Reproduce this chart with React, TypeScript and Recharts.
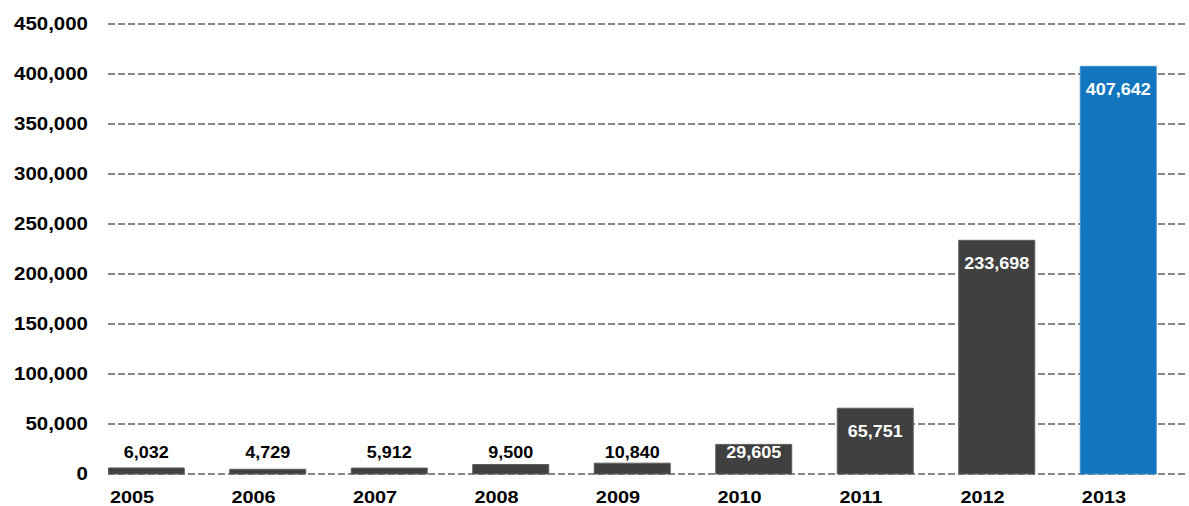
import { BarChart, Bar, XAxis, YAxis, CartesianGrid, LabelList, Cell } from "recharts"

const years = [2005, 2006, 2007, 2008, 2009, 2010, 2011, 2012, 2013]
const counts = [6032, 4729, 5912, 9500, 10840, 29605, 65751, 233698, 407642]
const yTicks = [0, 50000, 100000, 150000, 200000, 250000, 300000, 350000, 400000, 450000]

const data = years.map((year, i) => ({ year, count: counts[i] }))

const FONT = '"Liberation Sans", Arial, Helvetica, sans-serif'

function fmt(n: number) {
  return n.toLocaleString("en-US")
}

// axis text is drawn slightly wide, so stretch it around its anchor
function stretch(x: number, y: number, sx: number) {
  return `translate(${x} ${y}) scale(${sx} 1) translate(${-x} ${-y})`
}

function YTick(props: any) {
  const { x, y, payload } = props
  return (
    <text
      x={x}
      y={y}
      dy="0.355em"
      textAnchor="end"
      fontFamily={FONT}
      fontWeight="bold"
      fontSize={17.5}
      fill="#000"
      transform={stretch(x, y, 1.17)}
    >
      {fmt(Number(payload.value))}
    </text>
  )
}

function XTick(props: any) {
  const { x, y, payload } = props
  const cx = Number(x) - 14
  return (
    <text
      x={cx}
      y={y}
      dy="0.71em"
      textAnchor="middle"
      fontFamily={FONT}
      fontWeight="bold"
      fontSize={16.3}
      fill="#000"
      transform={stretch(cx, y, 1.22)}
    >
      {payload.value}
    </text>
  )
}

// inside-end label, pushed up above the bar when the bar is too short
function BarValue(props: any) {
  const { x, y, width, height, value } = props
  const top = Number(y)
  const bottom = top + Number(height)
  const cy = Math.min(top + 22.5, bottom - 22)
  const inside = Number(height) >= 20
  const cx = Number(x) + Number(width) / 2
  return (
    <text
      x={cx}
      y={cy}
      textAnchor="middle"
      dominantBaseline="central"
      fontFamily={FONT}
      fontWeight="bold"
      fontSize={17.3}
      fill={inside ? "#ffffff" : "#000000"}
      transform={stretch(cx, cy, 1.04)}
    >
      {fmt(Number(value))}
    </text>
  )
}

export default function App() {
  return (
    <div style={{ position: "absolute", left: 0, top: 0, background: "#fff" }}>
      <BarChart width={1189} height={506} data={data} margin={{ top: 24, right: 2, left: 0, bottom: 0 }}>
        <CartesianGrid vertical={false} stroke="#888888" strokeWidth={2} strokeDasharray="7 3" />
        <XAxis
          dataKey="year"
          type="number"
          domain={[2004.6872, 2013.568]}
          ticks={years}
          allowDataOverflow
          interval={0}
          height={32}
          axisLine={false}
          tickLine={false}
          tickSize={6}
          tickMargin={11}
          tick={XTick}
        />
        <YAxis
          domain={[0, 450000]}
          ticks={yTicks}
          interval={0}
          width={108}
          axisLine={false}
          tickLine={false}
          tickSize={6}
          tickMargin={14}
          tick={YTick}
        />
        <Bar dataKey="count" barSize={76} isAnimationActive={false} strokeWidth={1}>
          {data.map((d, i) => (
            <Cell
              key={d.year}
              fill={i === data.length - 1 ? "#1176be" : "#404040"}
              stroke={i === data.length - 1 ? "#3f8fca" : "#5e5e5e"}
            />
          ))}
          <LabelList dataKey="count" content={BarValue} />
        </Bar>
      </BarChart>
    </div>
  )
}
